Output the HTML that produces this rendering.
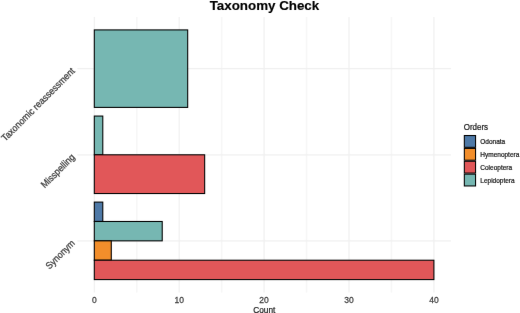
<!DOCTYPE html>
<html><head><meta charset="utf-8"><style>
html,body{margin:0;padding:0;background:#fff;}
body{width:520px;height:313px;overflow:hidden;position:relative;font-family:"Liberation Sans",sans-serif;}
svg{position:absolute;left:0;top:0;}
text{font-family:"Liberation Sans",sans-serif;}
</style></head><body>
<svg width="520" height="313" viewBox="0 0 520 313">
<defs><filter id="soft" x="0" y="0" width="520" height="313" filterUnits="userSpaceOnUse" color-interpolation-filters="sRGB"><feConvolveMatrix order="3" kernelMatrix="0.00163 0.03713 0.00163 0.03713 0.84497 0.03713 0.00163 0.03713 0.00163" edgeMode="duplicate" preserveAlpha="false"/></filter></defs>
<g filter="url(#soft)">
<rect x="0" y="0" width="520" height="313" fill="#fff"/>
<line x1="136.75" y1="16.99" x2="136.75" y2="292.51" stroke="#F6F6F6" stroke-width="1.5"/>
<line x1="221.65" y1="16.99" x2="221.65" y2="292.51" stroke="#F6F6F6" stroke-width="1.5"/>
<line x1="306.55" y1="16.99" x2="306.55" y2="292.51" stroke="#F6F6F6" stroke-width="1.5"/>
<line x1="391.45" y1="16.99" x2="391.45" y2="292.51" stroke="#F6F6F6" stroke-width="1.5"/>
<line x1="94.30" y1="16.99" x2="94.30" y2="292.51" stroke="#F0F0F0" stroke-width="1.2"/>
<line x1="179.20" y1="16.99" x2="179.20" y2="292.51" stroke="#F0F0F0" stroke-width="1.2"/>
<line x1="264.10" y1="16.99" x2="264.10" y2="292.51" stroke="#F0F0F0" stroke-width="1.2"/>
<line x1="349.00" y1="16.99" x2="349.00" y2="292.51" stroke="#F0F0F0" stroke-width="1.2"/>
<line x1="433.90" y1="16.99" x2="433.90" y2="292.51" stroke="#F0F0F0" stroke-width="1.2"/>
<line x1="77.32" y1="240.85" x2="450.88" y2="240.85" stroke="#F0F0F0" stroke-width="1.2"/>
<line x1="77.32" y1="154.80" x2="450.88" y2="154.80" stroke="#F0F0F0" stroke-width="1.2"/>
<line x1="77.32" y1="68.65" x2="450.88" y2="68.65" stroke="#F0F0F0" stroke-width="1.2"/>
<rect x="94.30" y="29.91" width="93.39" height="77.49" fill="#76B7B2" stroke="#000" stroke-width="1.07"/>
<rect x="94.30" y="116.06" width="8.49" height="38.74" fill="#76B7B2" stroke="#000" stroke-width="1.07"/>
<rect x="94.30" y="154.80" width="110.37" height="38.74" fill="#E15759" stroke="#000" stroke-width="1.07"/>
<rect x="94.30" y="202.10" width="8.49" height="19.37" fill="#4E79A7" stroke="#000" stroke-width="1.07"/>
<rect x="94.30" y="221.48" width="67.92" height="19.37" fill="#76B7B2" stroke="#000" stroke-width="1.07"/>
<rect x="94.30" y="240.85" width="16.98" height="19.37" fill="#F28E2B" stroke="#000" stroke-width="1.07"/>
<rect x="94.30" y="260.22" width="339.60" height="19.37" fill="#E15759" stroke="#000" stroke-width="1.07"/>
<text x="264.45" y="10.1" font-size="13.35" font-weight="bold" text-anchor="middle" fill="#000" stroke="#000" stroke-width="0.15">Taxonomy Check</text>
<g font-size="8.5" fill="#404040" stroke="#404040" stroke-width="0.25" text-anchor="middle">
<text transform="translate(94.30,302.8) scale(1,1.1)">0</text>
<text transform="translate(179.20,302.8) scale(1,1.1)">10</text>
<text transform="translate(264.10,302.8) scale(1,1.1)">20</text>
<text transform="translate(349.00,302.8) scale(1,1.1)">30</text>
<text transform="translate(433.90,302.8) scale(1,1.1)">40</text>
</g>
<text transform="translate(264.3,312.7) scale(1,1.12)" font-size="8.3" text-anchor="middle" fill="#1a1a1a" stroke="#1a1a1a" stroke-width="0.2">Count</text>
<g font-size="8.8" fill="#404040" stroke="#404040" stroke-width="0.25" text-anchor="end">
<text transform="translate(75.5,71.65) rotate(-45) scale(1,1.1)">Taxonomic reassessment</text>
<text transform="translate(75.5,157.80) rotate(-45) scale(1,1.1)">Misspelling</text>
<text transform="translate(75.5,243.85) rotate(-45) scale(1,1.1)">Synonym</text>
</g>
<text transform="translate(463.7,130.3) scale(1,1.17)" font-size="8" fill="#1a1a1a" stroke="#1a1a1a" stroke-width="0.2">Orders</text>
<g stroke="#000" stroke-width="1.07">
<rect x="464.33" y="135.53" width="11.23" height="11.8" fill="#4E79A7"/>
<rect x="464.33" y="148.41" width="11.23" height="11.8" fill="#F28E2B"/>
<rect x="464.33" y="161.28" width="11.23" height="11.8" fill="#E15759"/>
<rect x="464.33" y="174.16" width="11.23" height="11.8" fill="#76B7B2"/>
</g>
<g font-size="6.5" fill="#141414" stroke="#141414" stroke-width="0.2">
<text x="480.3" y="144.0">Odonata</text>
<text x="480.3" y="156.9">Hymenoptera</text>
<text x="480.3" y="169.8">Coleoptera</text>
<text x="480.3" y="182.6">Lepidoptera</text>
</g>
</g>
</svg>
</body></html>
